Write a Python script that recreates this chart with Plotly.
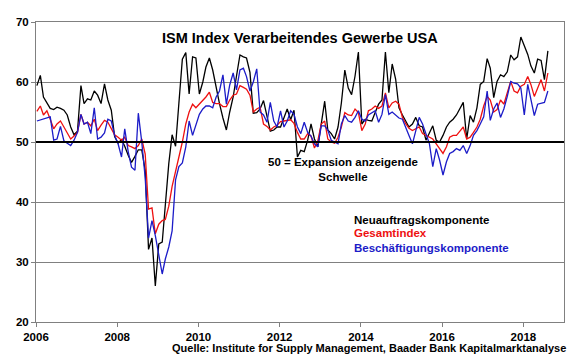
import pandas as pd
import plotly.graph_objects as go

start = "2006-01-01"
n_months = 152  # Jan 2006 .. Aug 2018

neuauftrag = [
    59.4, 61.1, 57.5, 56.5, 55.6, 55.4, 55.8, 55.6, 55.3, 54.5, 52.5, 51.2,
    51.8, 59.4, 56.4, 57.2, 57.0, 58.5, 57.8, 56.4, 59.7, 57.0, 55.3, 50.9,
    49.8, 50.4, 49.3, 47.8, 46.6, 47.6, 48.7, 48.7, 45.3, 32.1, 34.0, 26.0,
    33.0, 33.3, 40.0, 46.4, 51.2, 49.3, 56.5, 63.8, 64.9, 58.0, 64.2, 64.0,
    58.0, 60.0, 62.5, 64.0, 62.0, 59.0, 56.4, 54.0, 52.0, 55.0, 57.5, 61.0,
    64.5, 64.2, 64.0, 61.6, 54.8, 54.9, 55.5, 56.9, 54.0, 51.8, 52.0, 52.5,
    52.5, 54.0, 55.5, 53.7, 55.3, 47.5, 48.6, 48.4, 50.3, 53.0, 50.5, 49.2,
    53.0, 56.8, 52.0, 51.4, 50.5, 52.5, 56.5, 62.0, 59.0, 57.9, 61.0, 65.0,
    53.0, 53.8, 53.6, 53.5, 54.9, 56.3, 57.0, 65.0, 58.2, 63.0, 60.5, 55.7,
    54.5, 53.5, 52.5, 53.0, 54.1, 52.7, 52.5, 50.3, 51.5, 52.7, 50.3, 50.0,
    51.1, 52.5, 53.3, 53.8, 54.5, 55.7, 56.6, 50.5, 54.4, 53.3, 55.7, 59.6,
    60.1, 63.9, 62.3, 57.4, 60.1, 61.2, 60.9, 61.7, 64.5, 63.7, 64.2, 67.5,
    66.0, 64.6, 62.7, 61.5, 63.8, 63.6, 60.4, 65.2,
]

gesamt = [
    55.1, 56.0, 54.5, 55.2, 53.8, 52.2, 53.0, 53.5, 52.5, 51.4, 50.5, 51.0,
    51.6, 54.6, 53.0, 53.3, 52.7, 53.8, 51.9, 52.8, 53.6, 53.3, 52.2, 51.2,
    50.8, 50.3, 50.8, 49.4, 49.2, 48.9, 49.4, 50.5, 48.0, 38.8, 39.0, 34.7,
    36.3, 36.9, 37.1, 39.3, 42.6, 45.3, 47.5, 50.0, 53.0, 55.0, 56.3, 55.7,
    56.3, 56.8, 57.5, 58.3, 56.6, 56.4, 56.4, 55.9, 55.9, 57.0, 57.8, 58.0,
    59.4, 59.1, 58.8, 57.8, 55.0, 55.5, 55.8, 53.0, 52.6, 52.0, 52.5, 52.8,
    53.4, 53.5, 53.6, 53.7, 53.1, 51.6, 50.5, 50.5, 51.4, 51.0, 49.0, 50.2,
    53.0, 53.5, 50.5, 50.0, 49.8, 50.8, 52.5, 54.9, 54.5, 54.4, 55.5, 54.9,
    51.9, 53.0, 55.2, 55.5, 56.0, 55.6, 56.0, 58.2, 55.7, 56.5, 56.8, 56.3,
    54.1, 53.0, 52.3, 51.9, 52.2, 52.5, 51.4, 51.1, 50.9, 50.5, 49.7, 48.9,
    48.1, 49.2, 50.8, 51.1, 51.1, 51.8, 52.5, 50.5, 50.8, 51.6, 52.5, 53.8,
    56.0, 57.6, 57.0, 55.0, 55.4, 57.0, 56.3, 58.2, 60.1, 58.5, 58.2, 59.3,
    59.6, 60.9, 59.6, 57.6, 58.9, 60.4, 58.5, 61.5,
]

beschaeftigung = [
    53.5, 53.7, 53.8, 54.1, 54.2, 50.3, 50.5, 52.6, 50.2, 49.8, 49.4, 50.3,
    51.6, 54.6, 53.0, 53.3, 51.4, 55.7, 50.5, 50.8, 51.5, 53.8, 53.5, 51.1,
    49.7, 47.5, 52.2, 48.4, 45.8, 45.3, 54.8, 50.0, 44.0, 34.0, 36.9, 34.4,
    31.0, 28.0, 30.5, 32.5, 35.2, 43.7, 45.9, 46.5, 49.2, 53.5, 51.1, 53.0,
    54.6, 55.5, 56.0, 56.0, 55.7, 57.5, 58.5, 61.2, 56.3, 59.5, 61.5, 58.7,
    62.0, 62.3, 60.9, 58.5, 60.0, 62.2, 55.0, 54.5, 53.3, 56.6, 53.5, 52.5,
    55.2, 52.5, 53.5, 55.2, 54.6, 52.5, 51.4, 53.3, 51.6, 51.0, 49.7, 49.2,
    52.7, 52.7, 52.0, 50.3, 50.0, 49.7, 53.0, 54.4, 53.5, 53.3, 54.1, 55.2,
    53.8, 53.5, 54.5, 54.8, 55.2, 53.3, 54.6, 57.9, 54.6, 55.0, 54.4, 54.0,
    53.8, 52.5, 51.1, 49.7, 52.0, 54.1, 53.0, 51.5, 49.7, 45.9, 48.9, 47.0,
    44.5, 46.7, 48.1, 48.4, 48.9, 48.6, 49.4, 48.1, 49.4, 51.1, 51.9, 53.0,
    54.2, 58.5, 53.6, 55.5, 56.5, 54.1, 55.5, 57.6, 60.1, 59.8, 59.7, 59.0,
    54.5, 59.6, 57.0, 54.4, 56.3, 56.5, 56.6, 58.5,
]

series_names = ["Neuauftragskomponente", "Gesamtindex", "Beschäftigungskomponente"]
series_colors = ["#000000", "#ee1010", "#1c1cc8"]
threshold = 50
title_text = "ISM Index Verarbeitendes Gewerbe USA"
threshold_text = "50 = Expansion anzeigende<br>Schwelle"
source_text = "Quelle: Institute for Supply Management, Baader Bank Kapitalmarktanalyse"

dates = pd.date_range(start, periods=n_months, freq="MS") + pd.Timedelta(days=8)

FONT = "Liberation Sans, Arial, sans-serif"

fig = go.Figure()
for vals, name, col in zip([neuauftrag, gesamt, beschaeftigung], series_names, series_colors):
    fig.add_trace(go.Scatter(x=dates, y=vals, mode="lines", name=name,
                             line=dict(color=col, width=1.3), showlegend=False))

fig.add_shape(type="line", xref="paper", x0=0, x1=1, yref="y", y0=threshold, y1=threshold,
              line=dict(color="black", width=2), layer="above")

fig.add_annotation(text=title_text, xref="paper", x=0.5, yref="y", y=67.3,
                   showarrow=False, font=dict(family=FONT, size=14.5, color="black", weight="bold"))
fig.add_annotation(text=threshold_text, xref="paper", x=0.5805, yref="y", y=45.4,
                   showarrow=False, align="center",
                   font=dict(family=FONT, size=11.5, color="black", weight="bold"))
for name, col, yy in zip(series_names, series_colors, [37.0, 34.8, 32.4]):
    fig.add_annotation(text=name, xref="paper", x=0.599, xanchor="left", yref="y", y=yy,
                       showarrow=False, font=dict(family=FONT, size=11.5, color=col, weight="bold"))
fig.add_annotation(text=source_text, xref="paper", x=1.0075, xanchor="right",
                   yref="paper", y=-0.085, yanchor="middle", showarrow=False,
                   font=dict(family=FONT, size=11, color="black", weight="bold"))

# the page body adds an 8px margin, so the figure is 8px smaller with reduced margins
fig.update_layout(
    width=572, height=351,
    margin=dict(l=22, r=16, t=8, b=37),
    plot_bgcolor="white", paper_bgcolor="white",
    font=dict(family=FONT, size=11, color="black"),
)
fig.update_xaxes(type="date", range=["2006-01-01", "2019-01-01"],
                 tick0="2006-01-01", dtick="M24", tickformat="%Y",
                 showgrid=False, showline=True, linecolor="#808080", linewidth=1,
                 mirror=True, ticks="outside", ticklen=4, tickcolor="#808080",
                 tickfont=dict(family=FONT, size=11.5, color="black", weight="bold"))
fig.update_yaxes(range=[20, 70], dtick=10, showgrid=True, gridcolor="#808080", gridwidth=1,
                 showline=True, linecolor="#808080", linewidth=1, mirror=True,
                 ticks="outside", ticklen=4, tickcolor="#808080", zeroline=False,
                 tickfont=dict(family=FONT, size=11.5, color="black", weight="bold"))

fig.write_html("out.html")
